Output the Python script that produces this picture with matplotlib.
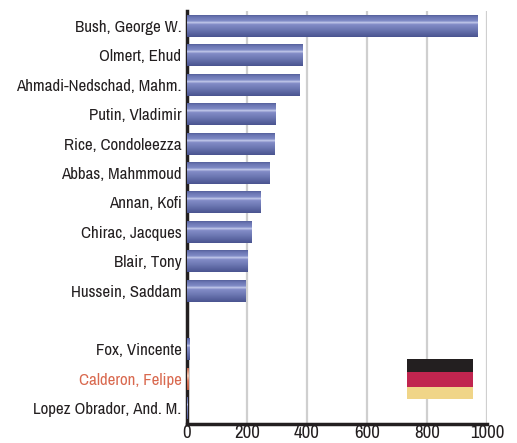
import numpy as np
from matplotlib import pyplot as plt
from matplotlib import font_manager as fm
from matplotlib.colors import LinearSegmentedColormap
from matplotlib.patches import Rectangle

names = ['Bush, George W.', 'Olmert, Ehud', 'Ahmadi-Nedschad, Mahm.', 'Putin, Vladimir',
         'Rice, Condoleezza', 'Abbas, Mahmmoud', 'Annan, Kofi', 'Chirac, Jacques',
         'Blair, Tony', 'Hussein, Saddam', '', 'Fox, Vincente', 'Calderon, Felipe',
         'Lopez Obrador, And. M.']
values = [968, 386, 376, 296, 293, 276, 246, 215, 203, 196, 0, 8, 6, 3]
x_ticks = [0, 200, 400, 600, 800, 1000]

W, H = 517, 443

# narrow font if there is one, otherwise shrink the labels so they still fit
installed = set(f.name for f in fm.fontManager.ttflist)
if 'Archivo Narrow' in installed:
    plt.rcParams['font.family'] = ['Archivo Narrow', 'DejaVu Sans']
    label_size, tick_size = 12.2, 13.5
else:
    plt.rcParams['font.family'] = ['Liberation Sans', 'DejaVu Sans']
    label_size, tick_size = 10.5, 12

fig = plt.figure(figsize=(W / 100, H / 100), dpi=100)
ax = fig.add_axes([187 / W, 1 - 424 / H, 300 / W, 413 / H])

blue = LinearSegmentedColormap.from_list('blue', [
    (0, '#4a548f'), (0.12, '#6a75b2'), (0.3, '#808bc6'), (0.37, '#c9cfee'),
    (0.44, '#848dc8'), (0.7, '#6a75b0'), (1, '#4a5490')])
orange = LinearSegmentedColormap.from_list('orange', [
    (0, '#b8563c'), (0.38, '#f4c9b0'), (0.6, '#d9775c'), (1, '#b8563c')])
grad = np.linspace(0, 1, 64).reshape(-1, 1)

ypos = np.arange(len(names))
bars = ax.barh(ypos, values, height=0.75, color='none', zorder=3)
for i, b in enumerate(bars):
    if values[i] == 0:
        continue
    cmap = orange if names[i].startswith('Calderon') else blue
    im = ax.imshow(grad, cmap=cmap, aspect='auto', zorder=3, interpolation='bilinear',
                   extent=(0, values[i], i + 0.375, i - 0.375))
    im.set_clip_path(b)

ax.set_xlim(0, 1000)
ax.set_ylim(13.54, -0.51)
ax.set_xticks(x_ticks)
ax.set_yticks(ypos)
ax.set_yticklabels(names)
ax.tick_params(axis='y', length=0, pad=4, labelsize=label_size, labelcolor='#231f20')
ax.tick_params(axis='x', length=0, pad=0.5, labelsize=tick_size, labelcolor='#231f20')
ax.get_yticklabels()[12].set_color('#d9694f')
ax.grid(axis='x', color='#cfcfcf', linewidth=1.6, zorder=0)
ax.set_axisbelow(True)
for s in ['top', 'right']:
    ax.spines[s].set_visible(False)
ax.spines['left'].set_linewidth(2.5)
ax.spines['bottom'].set_linewidth(2.5)
ax.spines['left'].set_color('#231f20')
ax.spines['bottom'].set_color('#231f20')

# flag
flag = [('#231f20', 359, 13), ('#c0254f', 372, 15), ('#f0d588', 387, 12)]
for col, top, h in flag:
    fig.add_artist(Rectangle((407 / W, 1 - (top + h) / H), 66 / W, h / H,
                             transform=fig.transFigure, color=col, lw=0))

fig.savefig('out.png', dpi=100)
